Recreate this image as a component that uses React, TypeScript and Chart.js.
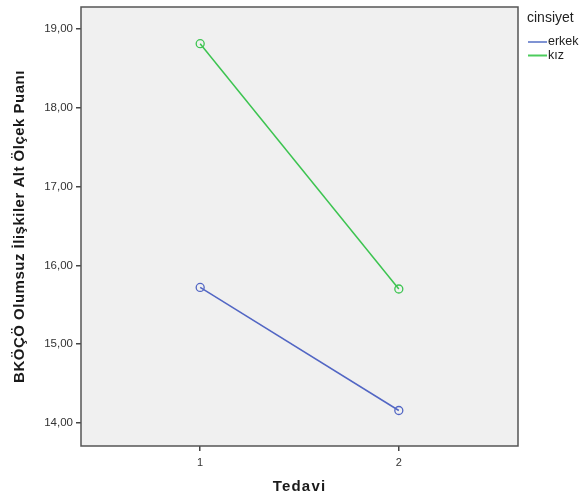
import React, { useEffect, useRef } from "react";
import { Chart, registerables } from "chart.js";

Chart.register(...registerables);

const tedaviTicks = [1, 2];
const yTicks = [14, 15, 16, 17, 18, 19];
const seriesNames = ["erkek", "kız"];
const erkekValues = [15.72, 14.16];
const kizValues = [18.81, 15.7];
const seriesColors = ["#5266c4", "#3cc450"];
const legendColors = ["#7f93d3", "#4ccc5c"];
const legendTitle = "cinsiyet";
const xTitle = "Tedavi";
const yTitle = "BKÖÇÖ Olumsuz İlişkiler Alt Ölçek Puanı";

const FONT = "'Liberation Sans', Arial, sans-serif";

const decor = {
  id: "decor",
  beforeDatasetsDraw(chart: any) {
    const { ctx, chartArea: a } = chart;
    ctx.save();
    ctx.fillStyle = "#f0f0f0";
    ctx.fillRect(a.left, a.top, a.right - a.left, a.bottom - a.top);
    ctx.restore();
  },
  afterDatasetsDraw(chart: any) {
    const { ctx, chartArea: a } = chart;
    ctx.save();
    ctx.strokeStyle = "#555555";
    ctx.lineWidth = 1.5;
    ctx.strokeRect(a.left, a.top, a.right - a.left, a.bottom - a.top);
    ctx.restore();
  },
  afterDraw(chart: any) {
    const { ctx, chartArea: a } = chart;
    ctx.save();
    ctx.fillStyle = "#1a1a1a";
    ctx.font = `bold 15px ${FONT}`;
    ctx.textAlign = "center";
    ctx.textBaseline = "middle";
    (ctx as any).letterSpacing = "1.2px";
    ctx.fillText(xTitle, (a.left + a.right) / 2, 487);
    (ctx as any).letterSpacing = "0.5px";
    ctx.translate(20, (a.top + a.bottom) / 2);
    ctx.rotate(-Math.PI / 2);
    ctx.fillText(yTitle, 0, 0);
    ctx.restore();

    ctx.save();
    ctx.textBaseline = "middle";
    ctx.textAlign = "left";
    ctx.fillStyle = "#222";
    ctx.font = `14px ${FONT}`;
    ctx.fillText(legendTitle, 527, 18);
    ctx.font = `12.5px ${FONT}`;
    chart.data.datasets.forEach((ds: any, i: number) => {
      const y = 42 + i * 13.5;
      ctx.strokeStyle = legendColors[i];
      ctx.lineWidth = 2;
      ctx.beginPath();
      ctx.moveTo(528, y);
      ctx.lineTo(547, y);
      ctx.stroke();
      ctx.fillStyle = "#222";
      ctx.fillText(ds.label, 548, y);
    });
    ctx.restore();
  },
};

export default function App() {
  const ref = useRef<HTMLCanvasElement>(null);
  useEffect(() => {
    document.body.style.margin = "0";
    const mk = (vals: number[]) => tedaviTicks.map((x, i) => ({ x, y: vals[i] }));
    const chart = new Chart(ref.current!, {
      type: "line",
      data: {
        datasets: [
          {
            label: seriesNames[0],
            data: mk(erkekValues),
            borderColor: seriesColors[0],
            backgroundColor: "rgba(0,0,0,0)",
            borderWidth: 1.5,
            pointRadius: 4,
            pointBorderWidth: 1.3,
            pointBackgroundColor: "rgba(0,0,0,0)",
            pointBorderColor: seriesColors[0],
          },
          {
            label: seriesNames[1],
            data: mk(kizValues),
            borderColor: seriesColors[1],
            backgroundColor: "rgba(0,0,0,0)",
            borderWidth: 1.5,
            pointRadius: 4,
            pointBorderWidth: 1.3,
            pointBackgroundColor: "rgba(0,0,0,0)",
            pointBorderColor: seriesColors[1],
          },
        ],
      },
      options: {
        animation: false,
        responsive: false,
        devicePixelRatio: 1,
        layout: { padding: { left: 0, top: 7, right: 61, bottom: 0 } },
        plugins: { legend: { display: false }, tooltip: { enabled: false } },
        scales: {
          x: {
            type: "linear",
            min: 0.4,
            max: 2.6,
            afterFit: (s: any) => {
              s.height = 51;
              s.paddingLeft = 0;
              s.paddingRight = 0;
            },
            afterBuildTicks: (s: any) => {
              s.ticks = tedaviTicks.map((v) => ({ value: v }));
            },
            grid: {
              drawOnChartArea: false,
              drawTicks: true,
              tickLength: 5,
              color: "#444",
              lineWidth: 1.5,
            },
            border: { display: false },
            ticks: {
              color: "#333",
              font: { family: FONT, size: 11 },
              padding: 5,
              callback: (v: any) => String(v),
            },
          },
          y: {
            type: "linear",
            min: 13.71,
            max: 19.275,
            afterFit: (s: any) => {
              s.width = 81;
              s.paddingTop = 0;
              s.paddingBottom = 0;
            },
            afterBuildTicks: (s: any) => {
              s.ticks = yTicks.map((v) => ({ value: v }));
            },
            grid: {
              drawOnChartArea: false,
              drawTicks: true,
              tickLength: 5,
              color: "#444",
              lineWidth: 1.5,
            },
            border: { display: false },
            ticks: {
              color: "#333",
              font: { family: FONT, size: 11.5 },
              padding: 3,
              callback: (v: any) => Number(v).toFixed(2).replace(".", ","),
            },
          },
        },
      },
      plugins: [decor],
    });
    return () => chart.destroy();
  }, []);
  return (
    <div style={{ width: 579, height: 497, background: "#fff" }}>
      <canvas ref={ref} width={579} height={497} style={{ display: "block" }} />
    </div>
  );
}
